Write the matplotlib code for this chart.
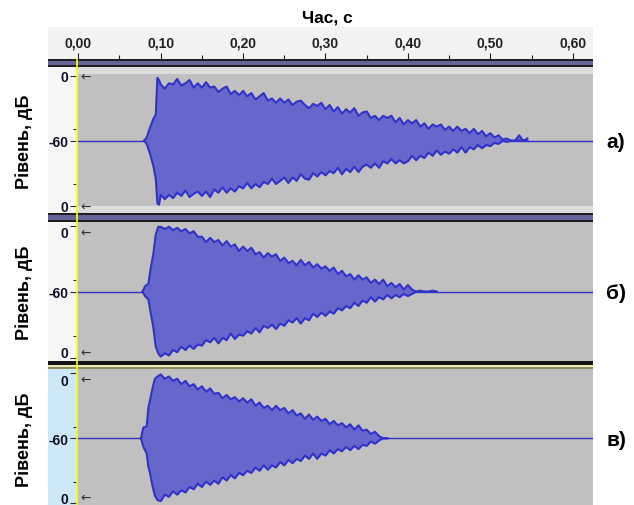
import numpy as np
import matplotlib
matplotlib.use('Agg')
import matplotlib.pyplot as plt
from matplotlib.patches import Rectangle
from matplotlib.lines import Line2D
from matplotlib.transforms import offset_copy

plt.rcParams['font.family'] = ['Liberation Sans', 'DejaVu Sans']

W, H = 634, 506
PX_PER_S = 824.0   # ruler scale, px per second
X0 = 78.3          # pixel column of t = 0

# ---- data (levels in dB) ----
ruler_ticks = [0.0, 0.1, 0.2, 0.3, 0.4, 0.5, 0.6]
ruler_labels = ['0,00', '0,10', '0,20', '0,30', '0,40', '0,50', '0,60']
ruler_minor = [0.05, 0.15, 0.25, 0.35, 0.45, 0.55]
level_labels = ['0', '-60', '0']
panel_labels = ['а)', 'б)', 'в)']

STEP = 0.005  # spacing of the decay readings, s

# track a)
t1_on = [0.080, 0.083, 0.087, 0.091, 0.094, 0.096, 0.098]
top1_on = [-60, -57, -48, -40, -36, -2, -4]
bot1_on = [-60, -57, -48, -37, -25, -2, -1]
t1_start = 0.100
top1 = [-8, -12, -7, -8, -3, -9, -7, -4, -11, -7,
        -11, -6, -11, -10, -15, -12, -10, -17, -14, -18,
        -14, -19, -16, -22, -19, -16, -23, -21, -25, -21,
        -25, -22, -27, -24, -23, -27, -30, -26, -28, -25,
        -31, -27, -33, -29, -35, -31, -34, -30, -37, -34,
        -33, -39, -37, -41, -37, -39, -37, -43, -39, -45,
        -41, -44, -41, -47, -44, -49, -45, -47, -45, -50,
        -47, -51, -47, -51, -49, -53, -49, -54, -51, -56,
        -53, -57, -55, -59, -58, -60, -60, -55, -60, -58]
bot1 = [-10, -6, -10, -7, -12, -9, -14, -8, -11, -13,
        -9, -13, -8, -15, -12, -17, -12, -16, -13, -18,
        -16, -21, -16, -20, -17, -22, -20, -25, -20, -23,
        -26, -21, -26, -23, -29, -25, -24, -30, -27, -31,
        -28, -32, -30, -35, -29, -34, -31, -36, -31, -36,
        -38, -35, -39, -35, -41, -39, -43, -39, -42, -39,
        -41, -46, -42, -46, -44, -49, -46, -51, -47, -50,
        -48, -52, -49, -54, -49, -54, -52, -56, -53, -56,
        -55, -58, -57, -60, -59, -60, -60, -60, -60, -60]

# track б)
t2_on = [0.078, 0.081, 0.085, 0.088, 0.091, 0.094, 0.097]
top2_on = [-60, -55, -53, -38, -26, -8, -1]
bot2_on = [-60, -56, -53, -40, -28, -10, -4]
t2_start = 0.100
top2 = [-1, -3, -1, -4, -2, -5, -3, -7, -5, -10,
        -10, -15, -11, -15, -13, -18, -14, -19, -17, -23,
        -19, -23, -20, -26, -24, -29, -25, -28, -26, -32,
        -29, -34, -32, -36, -31, -36, -33, -38, -35, -39,
        -37, -41, -38, -44, -41, -46, -44, -49, -45, -49,
        -47, -52, -49, -53, -49, -55, -52, -56, -53, -58,
        -54, -58, -60, -59, -60, -60, -59, -60]
bot2 = [-1, -4, -2, -7, -5, -10, -7, -11, -8, -12,
        -11, -16, -14, -18, -13, -18, -16, -22, -17, -21,
        -20, -24, -22, -27, -23, -29, -27, -30, -26, -31,
        -29, -34, -32, -36, -31, -36, -34, -40, -37, -41,
        -38, -42, -40, -45, -43, -47, -45, -50, -47, -52,
        -50, -55, -51, -55, -53, -57, -54, -57, -55, -58,
        -56, -58, -60, -60, -60, -60, -60, -60]

# track в)
t3_on = [0.076, 0.079, 0.083, 0.085, 0.087, 0.090, 0.093, 0.096]
top3_on = [-60, -50, -49, -32, -25, -14, -5, -3]
bot3_on = [-60, -52, -46, -34, -28, -16, -7, -3]
t3_start = 0.100
top3 = [-1, -5, -3, -7, -5, -10, -7, -12, -10, -15,
        -12, -17, -14, -19, -18, -23, -20, -24, -22, -26,
        -23, -27, -24, -30, -27, -32, -30, -34, -30, -34,
        -32, -37, -34, -39, -37, -42, -38, -43, -40, -44,
        -42, -47, -44, -48, -46, -50, -47, -52, -48, -53,
        -52, -56, -54, -58, -60, -60]
bot3 = [-2, -8, -6, -11, -8, -12, -10, -15, -13, -18,
        -15, -20, -17, -21, -18, -24, -21, -26, -23, -28,
        -26, -30, -28, -33, -30, -35, -31, -35, -33, -38,
        -35, -40, -37, -41, -39, -44, -41, -46, -41, -46,
        -44, -49, -46, -50, -48, -52, -49, -53, -50, -54,
        -53, -57, -55, -58, -60, -60]

FILL = '#6666cc'
EDGE = '#3232c8'
GRAY = '#c0c0c0'
BAND = '#66669a'


def fig_box(x0, y0, x1, y1):
    # pixel box (top-left origin) -> figure fraction rect
    return [x0 / W, 1 - y1 / H, (x1 - x0) / W, (y1 - y0) / H]


def px_rect(fig, x0, y0, x1, y1, color, z=-1):
    r = Rectangle((x0 / W, 1 - y1 / H), (x1 - x0) / W, (y1 - y0) / H,
                  transform=fig.transFigure, color=color, lw=0, zorder=z)
    fig.add_artist(r)


fig = plt.figure(figsize=(W / 100, H / 100), dpi=100)

fig.text(327 / W, 1 - 18 / H, 'Час, с', ha='center', va='center',
         fontsize=12.5, fontweight='bold')

# time ruler
rx = fig.add_axes(fig_box(48, 28, 592.5, 59.5))
rx.set_facecolor('#f3f3f3')
rx.set_xlim((48 - X0) / PX_PER_S, (592.5 - X0) / PX_PER_S)
rx.set_ylim(0, 1)
rx.set_yticks([])
rx.set_xticks(ruler_ticks)
rx.set_xticklabels(ruler_labels, fontweight='bold', fontsize=10)
rx.set_xticks(ruler_minor, minor=True)
rx.tick_params(axis='x', which='major', direction='in', length=4.5, width=0.8,
               pad=-16.5, colors='#202020')
rx.tick_params(axis='x', which='minor', direction='in', length=2.6, width=0.8,
               colors='#202020')
for s in rx.spines.values():
    s.set_visible(False)

# dark bands between tracks
px_rect(fig, 48, 59.5, 592.5, 68.3, '#1e1e1e', 1)
px_rect(fig, 48, 61.5, 592.5, 66.2, BAND, 2)
px_rect(fig, 48, 214, 592.5, 223, '#1e1e1e', 1)
px_rect(fig, 48, 216.3, 592.5, 221, BAND, 2)
px_rect(fig, 48, 361.7, 592.5, 370.3, '#151515', 1)
px_rect(fig, 48, 365.5, 592.5, 367.7, '#ecebb0', 2)
px_rect(fig, 48, 367.7, 592.5, 370.3, '#8c8c60', 2)

tracks = [
    (t1_on, top1_on, bot1_on, t1_start, top1, bot1),
    (t2_on, top2_on, bot2_on, t2_start, top2, bot2),
    (t3_on, top3_on, bot3_on, t3_start, top3, bot3),
]
# axes top px, bottom px, centre px, half height px, ruler colour, label shift px
geom = [
    (68.3, 214.0, 141.7, 65.0, '#f6f6f6', 0),
    (223.0, 361.7, 292.7, 66.0, '#f6f6f6', 6),
    (370.3, 506.0, 439.3, 65.0, '#cde8f9', 6),
]

for i, (tr, g) in enumerate(zip(tracks, geom)):
    t_on, top_on, bot_on, t_start, top, bot = tr
    ytop_px, ybot_px, yc, half, rcol, shift = g

    px_rect(fig, 48, ytop_px, 77.3, ybot_px, rcol)

    ax = fig.add_axes(fig_box(77.3, ytop_px, 592.5, ybot_px))
    ax.set_facecolor(GRAY)
    ax.set_xlim((77.3 - X0) / PX_PER_S, (592.5 - X0) / PX_PER_S)
    lo = -(ybot_px - yc) / half
    hi = (yc - ytop_px) / half
    ax.set_ylim(lo, hi)
    if i == 0:
        ax.axhspan((yc - 75) / half, hi, color='#dcdcdc', lw=0)
        ax.axhspan(lo, -(207 - yc) / half, color='#dcdcdc', lw=0)

    t = np.concatenate([t_on, t_start + STEP * np.arange(len(top))])
    lv_top = np.concatenate([top_on, top])
    lv_bot = np.concatenate([bot_on, bot])
    y_top = 1 + lv_top / 60.0
    y_bot = -(1 + lv_bot / 60.0)

    ax.axhline(0, color=EDGE, lw=1.0, zorder=2)
    ax.fill_between(t, y_bot, y_top, color=FILL, lw=0, zorder=3)
    ax.plot(t, y_top, color=EDGE, lw=1.5, zorder=4)
    ax.plot(t, y_bot, color=EDGE, lw=1.5, zorder=4)

    ax.set_xticks([])
    ax.set_yticks([-1, 0, 1])
    ax.set_yticklabels(level_labels[::-1], fontweight='bold', fontsize=10)
    ax.set_yticks([-0.67, 0.18], minor=True)
    ax.tick_params(axis='y', which='major', direction='out', length=5,
                   width=0.8, pad=1.5, colors='#303030')
    ax.tick_params(axis='y', which='minor', direction='out', length=3,
                   width=0.8, colors='#303030')
    for lbl in ax.get_yticklabels():
        lbl.set_color('#101028')
    for s in ax.spines.values():
        s.set_visible(False)

    # pull the "0" labels inward on the lower tracks
    labels = ax.get_yticklabels()
    if shift:
        labels[0].set_transform(offset_copy(labels[0].get_transform(), fig,
                                            y=shift, units='dots'))
        labels[2].set_transform(offset_copy(labels[2].get_transform(), fig,
                                            y=-shift, units='dots'))
    for yv, dy in [(1, -shift), (-1, shift)]:
        ax.annotate('←', xy=(0, yv), xytext=(2, dy),
                    textcoords='offset pixels', ha='left', va='center',
                    fontsize=9, color='#303030', family='DejaVu Sans',
                    annotation_clip=False)

    fig.text(24 / W, 1 - yc / H, 'Рівень, дБ', rotation=90, ha='center',
             va='center', fontsize=13, fontweight='bold')
    fig.text(616 / W, 1 - (yc + 1) / H, panel_labels[i], ha='center',
             va='center', fontsize=15, fontweight='bold')

fig.add_artist(Line2D([77.3 / W, 77.3 / W], [1 - 60 / H, 0], color='#ffff00',
                      lw=1.2, transform=fig.transFigure, zorder=10))

fig.savefig('out.png', dpi=100, facecolor='white')
